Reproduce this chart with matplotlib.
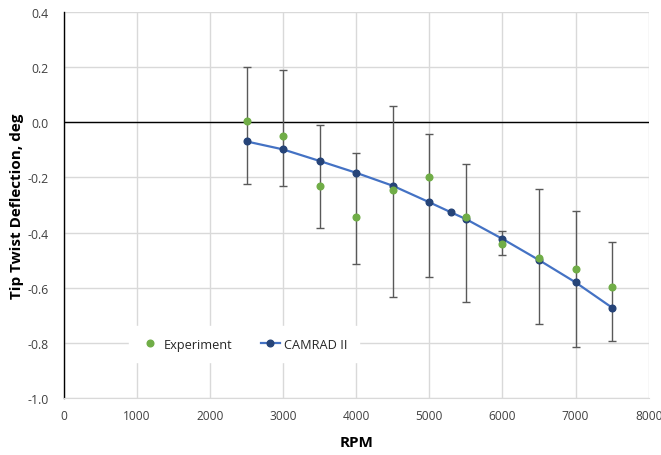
import matplotlib
matplotlib.use("Agg")
import matplotlib.pyplot as plt
from matplotlib.ticker import FixedLocator

plt.rcParams['font.family'] = ['Open Sans', 'DejaVu Sans']

exp_rpm = [2500, 3000, 3500, 4000, 4500, 5000, 5500, 6000, 6500, 7000, 7500]
exp_val = [0.004, -0.048, -0.232, -0.342, -0.247, -0.198, -0.343, -0.44, -0.493, -0.532, -0.599]
exp_hi = [0.20, 0.19, -0.011, -0.112, 0.059, -0.043, -0.15, -0.393, -0.243, -0.322, -0.434]
exp_lo = [-0.222, -0.232, -0.383, -0.513, -0.634, -0.56, -0.654, -0.482, -0.734, -0.815, -0.795]

cam_rpm = [2500, 3000, 3500, 4000, 4500, 5000, 5300, 5500, 6000, 6500, 7000, 7500]
cam_val = [-0.069, -0.098, -0.14, -0.183, -0.23, -0.29, -0.327, -0.351, -0.423, -0.50, -0.581, -0.673]

x_ticks = [0, 1000, 2000, 3000, 4000, 5000, 6000, 7000, 8000]
y_ticks = [-1.0, -0.8, -0.6, -0.4, -0.2, 0.0, 0.2, 0.4]

fig = plt.figure(figsize=(6.61, 4.56), dpi=100)
ax = fig.add_axes([0.0964, 0.1256, 0.885, 0.8452])

ax.set_xlim(0, 8000)
ax.set_ylim(-1.0, 0.4)
ax.xaxis.set_major_locator(FixedLocator(x_ticks))
ax.yaxis.set_major_locator(FixedLocator(y_ticks))
ax.set_xticklabels([str(t) for t in x_ticks])
ax.set_yticklabels([f"{t:.1f}" for t in y_ticks])
ax.grid(True, color='#d9d9d9', linewidth=1.0)
ax.set_axisbelow(True)
ax.tick_params(axis='y', length=0, labelsize=8.8, colors='#404040', pad=11)
ax.tick_params(axis='x', length=0, labelsize=8.6, colors='#404040', pad=8)

for s in ['top', 'right']:
    ax.spines[s].set_visible(False)
ax.spines['bottom'].set_color('#d9d9d9')
ax.spines['left'].set_color('black')
ax.spines['left'].set_linewidth(1.0)
ax.axhline(0, color='black', linewidth=1.0, zorder=1)

lo_err = [v - l for v, l in zip(exp_val, exp_lo)]
hi_err = [h - v for v, h in zip(exp_val, exp_hi)]
ax.errorbar(exp_rpm, exp_val, yerr=[lo_err, hi_err], fmt='none', ecolor='#595959',
            elinewidth=1.0, capsize=3, capthick=1.0, zorder=2)

ax.plot(cam_rpm, cam_val, color='#4472C4', linewidth=1.6, marker='o', markersize=4.8,
        markerfacecolor='#264478', markeredgecolor='#264478', label='CAMRAD II', zorder=3)
ax.plot(exp_rpm, exp_val, linestyle='none', marker='o', markersize=4.8,
        markerfacecolor='#70AD47', markeredgecolor='#70AD47', label='Experiment', zorder=4)

handles, labels = ax.get_legend_handles_labels()
leg = ax.legend([handles[1], handles[0]], [labels[1], labels[0]], loc='center',
                bbox_to_anchor=(0.308, 0.139), ncol=2, frameon=True, fontsize=9.2,
                handlelength=1.5, handletextpad=0.3, columnspacing=2.2, borderpad=0.9)
leg.get_frame().set_edgecolor('white')
leg.get_frame().set_facecolor('white')
leg.get_frame().set_alpha(1.0)
for t in leg.get_texts():
    t.set_color('#262626')

ax.set_xlabel('RPM', fontsize=11, fontweight='bold', color='black', va='center')
ax.set_ylabel('Tip Twist Deflection, deg', fontsize=11, fontweight='bold', color='black', va='center')
ax.xaxis.set_label_coords(0.5, -0.115)
ax.yaxis.set_label_coords(-0.080, 0.5)

fig.savefig('out.png', dpi=100)
